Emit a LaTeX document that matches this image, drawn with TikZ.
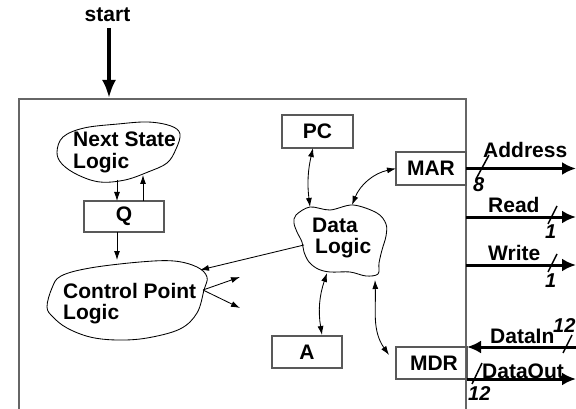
\documentclass[tikz,border=0pt]{standalone}
\usepackage{fontspec}
\setmainfont{Liberation Sans}
\usetikzlibrary{arrows.meta}
\begin{document}
\begin{tikzpicture}[x=1pt,y=-1pt,
  lbl/.style={font=\fontsize{21}{21}\selectfont\bfseries, inner sep=0pt, anchor=base west},
  num/.style={font=\fontsize{20}{20}\selectfont\bfseries\itshape, inner sep=0pt, anchor=base west},
  regbox/.style={draw=black!65, line width=1.1pt, inner sep=0pt, outer sep=0pt,
                 font=\fontsize{21}{21}\selectfont\bfseries},
  frame/.style={draw=black!60, line width=1.1pt},
  blob/.style={draw=black, line width=0.85pt},
  thinarr/.style={draw=black, line width=0.85pt, -{Latex[length=9pt,width=6pt]}},
  dblarr/.style={draw=black, line width=0.85pt, {Latex[length=9pt,width=6pt]}-{Latex[length=9pt,width=6pt]}},
  busarr/.style={draw=black, line width=3pt, -{Latex[length=14pt,width=13pt]}},
  startarr/.style={draw=black, line width=3.5pt, -{Latex[length=18pt,width=14pt]}},
  slash/.style={draw=black, line width=1.5pt},
]
\useasboundingbox (0,0) rectangle (576,409);

% outer frame of the controller (open at the bottom)
\draw[frame] (19,420) -- (19,99) -- (466,99) -- (466,420);

% start input
\node[lbl, anchor=base] (start) at (107.5,22) {start};
\coordinate (startTail) at (109,28);
\coordinate (startTip) at (109,98);
\draw[startarr] (startTail) -- (startTip);

% registers
\node[regbox, minimum width=71pt, minimum height=33pt] (pc)  at (317.5,131.5) {PC};
\node[regbox, minimum width=70pt, minimum height=33pt] (mar) at (431,168.5) {MAR};
\node[regbox, minimum width=80pt, minimum height=31pt] (q)   at (124,216.5) {Q};
\node[regbox, minimum width=70pt, minimum height=32pt] (a)   at (307,352) {A};
\node[regbox, minimum width=71pt, minimum height=32pt] (mdr) at (431.5,363) {\hspace*{5pt}MDR};

% Next State Logic cloud
\draw[blob] plot[smooth cycle, tension=0.6] coordinates {
  (63,137) (84,128) (118,124) (148,122) (171,126) (180,134) (176,149)
  (167,163) (148,172) (125,180) (100,182) (78,175) (62,164) (57,152)};
\node[lbl] (nsT1) at (73,147) {Next State};
\node[lbl] (nsT2) at (73,168) {Logic};

% Control Point Logic cloud
\draw[blob] plot[smooth cycle, tension=0.6] coordinates {
  (47,307) (52,288) (61,276) (90,268) (140,262) (174,261) (197,267)
  (207,277) (204,290) (197,313) (180,329) (147,338) (117,340) (90,337)
  (67,328) (53,317)};
\node[lbl] (cpT1) at (63,298) {Control Point};
\node[lbl] (cpT2) at (63,319) {Logic};

% Data Logic cloud
\draw[blob] plot[smooth cycle, tension=0.55] coordinates {
  (296,215) (310,207) (330,210) (353,205) (377,213) (386,224) (386,236)
  (382,250) (379,263) (378,274) (366,276) (350,272) (330,272) (318,269)
  (309,262) (304,252) (302,242) (297,232) (294,223)};
\node[lbl] (dlT1) at (312,233) {Data};
\node[lbl] (dlT2) at (315,253) {Logic};

% attachment points on the clouds
\coordinate (nsA) at (117,180);
\coordinate (nsB) at (143,175);
\coordinate (cpN) at (117,260);
\coordinate (cpNE) at (200,270);
\coordinate (cpE) at (203,290);
\coordinate (cpOut1) at (240,277);
\coordinate (cpOut2) at (240,308);
\coordinate (dlW) at (304,245);
\coordinate (dlN) at (310,207);
\coordinate (dlNE) at (352,205);
\coordinate (dlS) at (327,273);
\coordinate (dlSE) at (375,280);
\coordinate (pcS) at (313,148);
\coordinate (aN) at (322,335);
\coordinate (mdrW) at (389,355);

% control connections
\draw[thinarr] (nsA) -- (nsA |- q.north);
\draw[thinarr] (nsB |- q.north) -- (nsB);
\draw[thinarr] (nsA |- q.south) -- (cpN);
\draw[thinarr] (dlW) -- (cpNE);
\draw[thinarr] (cpE) -- (cpOut1);
\draw[thinarr] (cpE) -- (cpOut2);

% data paths
\draw[dblarr] (pcS) to[bend right=10] (dlN);
\draw[dblarr] (mar.west) to[out=192,in=68] (dlNE);
\draw[dblarr] (dlS) to[bend right=14] (aN);
\draw[dblarr] (dlSE) to[out=-88,in=125] (mdrW);

% memory bus signals
\coordinate (addrE) at (576,168.5);
\coordinate (rdS) at (466,217);
\coordinate (rdE) at (576,217);
\coordinate (wrS) at (466,265);
\coordinate (wrE) at (576,265);
\coordinate (dinS) at (577,347);
\coordinate (doutE) at (576,379);

\draw[busarr] (mar.east) -- (addrE);
\draw[busarr] (rdS) -- (rdE);
\draw[busarr] (wrS) -- (wrE);
\draw[busarr] (dinS) -- (mdr.north east);
\draw[busarr] (mdr.south east) -- (doutE);

% bus width marks
\draw[slash] (476,179) -- (489,155);
\draw[slash] (548,224) -- (557,206);
\draw[slash] (548,272) -- (557,254);
\draw[slash] (563,353) -- (572,335);
\draw[slash] (472,384) -- (482,363);

% signal names
\node[lbl] (addrL) at (483,158) {Address};
\node[lbl] (rdL) at (488,212) {Read};
\node[lbl] (wrL) at (488,260) {Write};
\node[lbl] (dinL) at (490,343) {DataIn};
\node[lbl] (doutL) at (482,378) {DataOut};

% bus widths
\node[num] (addrW) at (473,192) {8};
\node[num] (rdW) at (545,238) {1};
\node[num] (wrW) at (545,287) {1};
\node[num] (dinW) at (553,332) {12};
\node[num] (doutW) at (468,400) {12};
\end{tikzpicture}
\end{document}
